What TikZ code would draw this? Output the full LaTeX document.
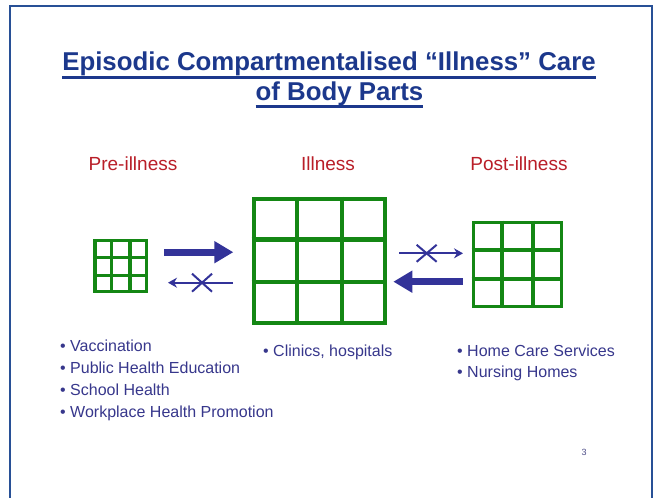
\documentclass[tikz,border=0pt]{standalone}
\usepackage{fontspec}
\setmainfont{Liberation Sans}
\usetikzlibrary{arrows.meta,positioning,calc}

\definecolor{framecol}{RGB}{40,80,150}
\definecolor{titlecol}{RGB}{28,56,140}
\definecolor{headcol}{RGB}{185,30,40}
\definecolor{gridcol}{RGB}{20,135,20}
\definecolor{navy}{RGB}{51,51,153}
\definecolor{itemcol}{RGB}{55,55,140}

\newcommand{\titleul}[1]{\setbox0=\hbox{#1}\rlap{\rule[-7.8pt]{\wd0}{2.4pt}}\box0}

\begin{document}
\begin{tikzpicture}[x=1pt, y=-1pt,
  titletext/.style={text=titlecol, font=\fontsize{25.8}{30}\selectfont\bfseries, anchor=base, inner sep=0pt},
  heading/.style={text=headcol, font=\fontsize{19}{23}\selectfont, anchor=base, inner sep=0pt},
  gridbox/.style={draw=gridcol, inner sep=0pt},
  item/.style={text=itemcol, font=\fontsize{16}{20}\selectfont, anchor=base west, inner sep=0pt},
  bigarrow/.style={-{Triangle[length=19pt,width=21pt]}, line width=6.6pt, navy},
  thinarrow/.style={-{Stealth[length=9pt,width=10pt]}, line width=2pt, navy},
  blockmark/.style={inner sep=0pt, minimum width=18pt, minimum height=16pt},
  crossline/.style={navy, line width=2pt}
]
\useasboundingbox (0,0) rectangle (656,498);
\fill[white] (0,0) rectangle (656,498);
\draw[framecol, line width=2pt] (10,498) -- (10,6) -- (652,6) -- (652,498);

% title
\node[titletext] (title1) at (329,70.7) {\titleul{Episodic Compartmentalised “Illness” Care}};
\node[titletext] (title2) at (339.5,100) {\titleul{of Body Parts}};

% stages
\node[heading] (prehead) at (133,170) {Pre-illness};
\node[heading] (illhead) at (328,170) {Illness};
\node[heading] (posthead) at (519,170) {Post-illness};

\node[gridbox, line width=3.2pt, minimum width=51.6pt, minimum height=51pt] (pre) at (120.8,266.2) {};
\node[gridbox, line width=4.2pt, minimum width=130.8pt, minimum height=124pt] (ill) at (319.2,260.9) {};
\node[gridbox, line width=3.6pt, minimum width=88pt, minimum height=84pt] (post) at (517.5,264.5) {};

\foreach \g/\w in {pre/3.2pt, ill/4.2pt, post/3.6pt} {
  \foreach \k in {0.3333,0.6667} {
    \draw[gridcol, line width=\w] ($(\g.north west)!\k!(\g.north east)$) -- ($(\g.south west)!\k!(\g.south east)$);
    \draw[gridcol, line width=\w] ($(\g.north west)!\k!(\g.south west)$) -- ($(\g.north east)!\k!(\g.south east)$);
  }
}

% connectors
\coordinate (pa) at ([yshift=14pt]pre.east);
\coordinate (pb) at ([yshift=-16.5pt]pre.east);
\coordinate (qa) at ([yshift=11.2pt]post.west);
\coordinate (qb) at ([yshift=-17.2pt]post.west);

\draw[bigarrow, shorten <=16pt, shorten >=18.4pt] (pa) -- (pa -| ill.west);
\draw[thinarrow, shorten <=18.7pt, shorten >=19.8pt] (pb -| ill.west) -- (pb)
  node[blockmark, pos=0.48] (backx) {};
\draw[thinarrow, shorten <=12.3pt, shorten >=8.7pt] (qa -| ill.east) -- (qa)
  node[blockmark, pos=0.47, minimum height=15pt] (fwdx) {};
\draw[bigarrow, shorten <=9pt, shorten >=6.6pt] (qb) -- (qb -| ill.east);

% blocked marks
\foreach \x in {backx,fwdx}
  \draw[crossline] (\x.north west) -- (\x.south east) (\x.north east) -- (\x.south west);

% lists
\foreach \t [count=\i] in {Vaccination, Public Health Education, School Health, Workplace Health Promotion}
  \node[item] (preitem\i) at (60,{351+22.3*(\i-1)}) {\textbullet\ \t};
\node[item] (illitem1) at (263,356) {\textbullet\ Clinics, hospitals};
\node[item] (postitem1) at (457,356) {\textbullet\ Home Care Services};
\node[item] (postitem2) at (457,377) {\textbullet\ Nursing Homes};

\node[text=itemcol!70!gray, font=\fontsize{9}{11}\selectfont, inner sep=0pt] (pagenum) at (584,452) {3};
\end{tikzpicture}
\end{document}
